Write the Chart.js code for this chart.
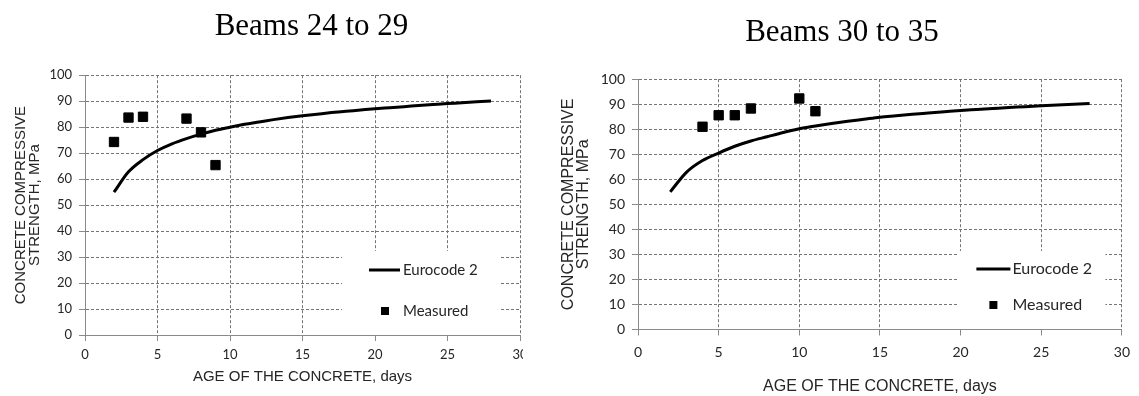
<!DOCTYPE html>
<html>
<head>
<meta charset="utf-8">
<title>Concrete compressive strength</title>
<script src="https://cdn.jsdelivr.net/npm/chart.js@4.4.1/dist/chart.umd.min.js"></script>
<style>
  body { margin: 0; background: #fff; }
  .panel { position: absolute; top: 0; height: 396px; overflow: hidden; }
  #leftPanel { left: 0; width: 523px; }
  #rightPanel { left: 545px; width: 594px; }
</style>
</head>
<body>
<div class="panel" id="leftPanel"><canvas id="leftChart" width="623" height="396"></canvas></div>
<div class="panel" id="rightPanel"><canvas id="rightChart" width="594" height="396"></canvas></div>
<script>
// values
const eurocodeDays = [2, 3, 4, 5, 6, 7, 8, 9, 10, 11, 12, 13, 14, 15, 16, 17, 18, 19, 20, 21, 22, 23, 24, 25, 26, 27, 28];
const eurocodeLeft = [55, 62.8, 67.5, 71, 73.6, 75.6, 77.3, 78.8, 80, 81.1, 82, 82.9, 83.7, 84.4, 85, 85.6, 86.1, 86.6, 87.1, 87.5, 87.9, 88.3, 88.7, 89.1, 89.4, 89.8, 90.1];
const eurocodeRight = [55, 62.8, 67.5, 70.5, 73.2, 75.3, 77, 78.7, 80.2, 81.3, 82.3, 83.2, 84, 84.8, 85.4, 86, 86.5, 87, 87.5, 87.9, 88.3, 88.7, 89, 89.4, 89.7, 90, 90.3];
const measuredDaysLeft = [2, 3, 4, 7, 8, 9];
const measuredLeft = [74.3, 83.7, 84, 83.3, 78, 65.4];
const measuredDaysRight = [4, 5, 6, 7, 10, 11];
const measuredRight = [81, 85.6, 85.6, 88.3, 92.3, 87.2];
const xTicks = [0, 5, 10, 15, 20, 25, 30];
const yTicks = [0, 10, 20, 30, 40, 50, 60, 70, 80, 90, 100];

const gridGray = '#747474';
const axisGray = '#8a8a8a';
const textDark = '#262626';

// white legend box inside the plot, like the spreadsheet original
const boxLegend = {
  id: 'boxLegend',
  beforeDatasetsDraw(chart, args, o) {
    const {ctx, chartArea} = chart;
    const left = chartArea.right - o.right;
    const top = chartArea.bottom - o.up;
    const [curve, points] = chart.data.datasets;
    ctx.save();
    ctx.fillStyle = '#fff';
    ctx.fillRect(left, top, o.width, o.up - 1);
    ctx.font = o.font;
    ctx.textBaseline = 'middle';
    ctx.strokeStyle = curve.borderColor;
    ctx.lineWidth = curve.borderWidth;
    ctx.beginPath();
    ctx.moveTo(left + o.lineFrom, top + o.row1);
    ctx.lineTo(left + o.lineTo, top + o.row1);
    ctx.stroke();
    ctx.fillStyle = textDark;
    ctx.fillText(curve.label, left + o.textX, top + o.row1);
    ctx.fillStyle = points.backgroundColor;
    ctx.fillRect(left + o.markX - o.marker / 2, top + o.row2 - o.marker / 2, o.marker, o.marker);
    ctx.fillStyle = textDark;
    ctx.fillText(points.label, left + o.textX, top + o.row2);
    ctx.restore();
  }
};

function makeChart(id, cfg) {
  return new Chart(document.getElementById(id), {
    type: 'scatter',
    data: {
      datasets: [{
        label: 'Eurocode 2',
        data: eurocodeDays.map((d, i) => ({x: d, y: cfg.curve[i]})),
        showLine: true,
        borderColor: '#000',
        borderWidth: 3,
        pointRadius: 0,
        cubicInterpolationMode: 'monotone'
      }, {
        label: 'Measured',
        data: cfg.days.map((d, i) => ({x: d, y: cfg.measured[i]})),
        backgroundColor: '#000',
        borderColor: '#000',
        borderWidth: 1,
        pointStyle: 'rect',
        pointRadius: 6.6
      }]
    },
    options: {
      responsive: false,
      animation: false,
      plugins: {
        legend: {display: false},
        tooltip: {enabled: false},
        title: {
          display: true,
          text: cfg.title,
          color: '#000',
          font: {family: 'Liberation Serif', size: 31, weight: 'normal'},
          padding: {top: cfg.titleTop, bottom: cfg.titleBottom}
        },
        boxLegend: cfg.legend
      },
      scales: {
        x: {
          type: 'linear',
          min: xTicks[0],
          max: xTicks[xTicks.length - 1],
          afterBuildTicks: s => { s.ticks = xTicks.map(v => ({value: v})); },
          afterFit: s => { s.height = cfg.xHeight; },
          ticks: {color: textDark, padding: cfg.xTickPad, font: {family: 'Lato', size: cfg.tickSize}},
          grid: {color: gridGray, tickColor: axisGray, tickLength: 6},
          border: {color: axisGray, dash: [3, 2]},
          title: {
            display: true,
            text: 'AGE OF THE CONCRETE, days',
            color: textDark,
            font: {family: 'Liberation Sans', size: cfg.titleSize},
            padding: {top: 0, bottom: cfg.xTitlePad}
          }
        },
        y: {
          min: yTicks[0],
          max: yTicks[yTicks.length - 1],
          afterBuildTicks: s => { s.ticks = yTicks.map(v => ({value: v})); },
          afterFit: s => { s.width = cfg.yWidth; },
          ticks: {color: textDark, padding: 7, font: {family: 'Lato', size: cfg.tickSize}},
          grid: {color: gridGray, tickColor: axisGray, tickLength: 6},
          border: {color: axisGray, dash: [3, 2]},
          title: {
            display: true,
            text: ['CONCRETE COMPRESSIVE', 'STRENGTH, MPa'],
            color: textDark,
            font: {family: 'Liberation Sans', size: cfg.titleSize, lineHeight: 0.95},
            padding: {top: cfg.yTitlePad, bottom: 0}
          }
        },
        // empty box on the right so the title centres like the original
        spacer: {
          position: 'right',
          display: true,
          grid: {display: false},
          border: {display: false},
          ticks: {display: false},
          afterFit: s => { s.width = cfg.padRight; }
        }
      }
    },
    plugins: [boxLegend]
  });
}

makeChart('leftChart', {
  title: 'Beams 24 to 29',
  curve: eurocodeLeft,
  days: measuredDaysLeft,
  measured: measuredLeft,
  padRight: 103,
  titleTop: 8,
  titleBottom: 30,
  xHeight: 61,
  yWidth: 85,
  tickSize: 13,
  titleSize: 15,
  xTickPad: 6,
  xTitlePad: 10,
  yTitlePad: 13.5,
  legend: {right: 178, up: 84, width: 158, lineFrom: 27, lineTo: 58, row1: 19, row2: 60, textX: 61, markX: 43, marker: 8, font: '15px Lato'}
});

makeChart('rightChart', {
  title: 'Beams 30 to 35',
  curve: eurocodeRight,
  days: measuredDaysRight,
  measured: measuredRight,
  padRight: 12.5,
  titleTop: 14,
  titleBottom: 28,
  xHeight: 66.5,
  yWidth: 93,
  tickSize: 14,
  titleSize: 16,
  xTickPad: 9,
  xTitlePad: 0,
  yTitlePad: 15.5,
  legend: {right: 163.5, up: 78.5, width: 147, lineFrom: 18, lineTo: 52, row1: 18, row2: 54, textX: 54, markX: 35, marker: 8, font: '16px Lato'}
});
</script>
</body>
</html>
